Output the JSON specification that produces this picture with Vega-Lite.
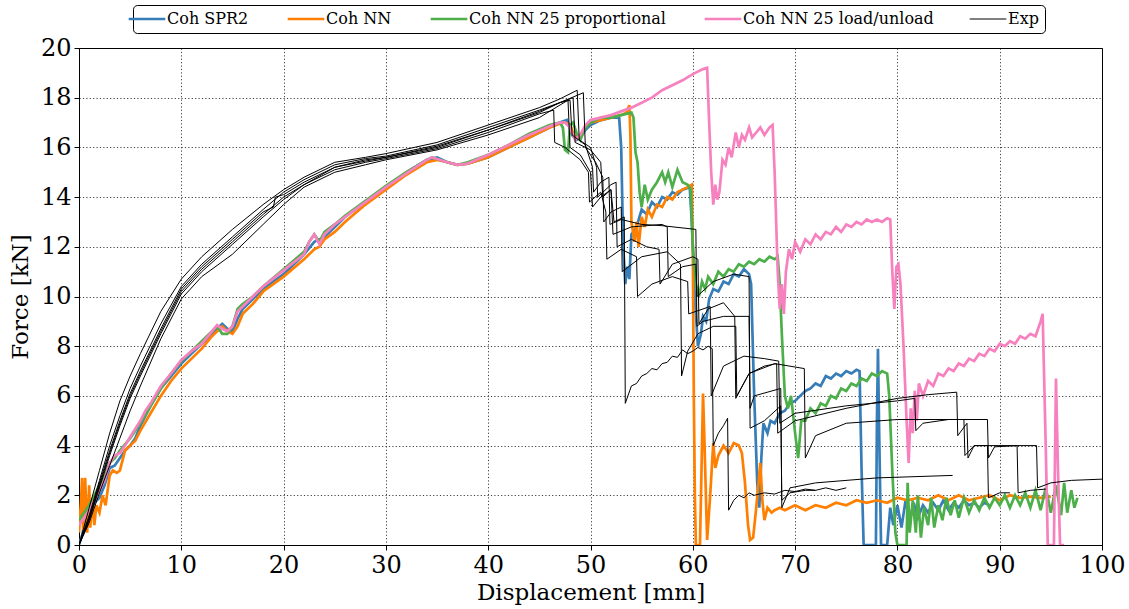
{
"$schema":"https://vega.github.io/schema/vega-lite/v6.json",
"width":1023,"height":497,
"autosize":{"type":"none"},
"padding":{"left":79,"top":48,"right":27,"bottom":64},
"config":{
"font":"DejaVu Serif",
"view":{"stroke":"#000","strokeWidth":1},
"axis":{"labelFont":"DejaVu Serif","titleFont":"DejaVu Serif","labelFontSize":24,"titleFontSize":23,"titleFontWeight":"normal","labelColor":"#000","titleColor":"#000","domainColor":"#000","tickColor":"#000","tickSize":5,"gridColor":"#000","gridOpacity":0.75,"gridDash":[1.2,2.2],"gridWidth":1,"labelFlush":false,"labelOverlap":false,"labelPadding":3}
},
"datasets":{
"blue":[{"x":0,"y":0},{"x":0.3,"y":0.4},{"x":0.6,"y":0.9},{"x":1,"y":1.3},{"x":1.5,"y":1.7},{"x":2,"y":1.9},{"x":2.5,"y":2.4},{"x":3,"y":3.1},{"x":3.5,"y":3.2},{"x":4,"y":3.5},{"x":4.5,"y":3.8},{"x":5,"y":4.0},{"x":5.5,"y":4.3},{"x":6,"y":4.8},{"x":7,"y":5.6},{"x":8,"y":6.3},{"x":9,"y":6.8},{"x":10,"y":7.3},{"x":11,"y":7.7},{"x":12,"y":8.1},{"x":13,"y":8.5},{"x":14,"y":8.9},{"x":14.5,"y":8.7},{"x":15,"y":8.6},{"x":15.5,"y":9.1},{"x":16,"y":9.5},{"x":17,"y":9.9},{"x":18,"y":10.3},{"x":19,"y":10.6},{"x":20,"y":10.9},{"x":21,"y":11.3},{"x":22,"y":11.7},{"x":23,"y":12.2},{"x":23.5,"y":12.3},{"x":24,"y":12.4},{"x":25,"y":12.8},{"x":26,"y":13.2},{"x":28,"y":13.8},{"x":30,"y":14.4},{"x":32,"y":15.0},{"x":34,"y":15.5},{"x":35,"y":15.6},{"x":36,"y":15.4},{"x":37,"y":15.3},{"x":38,"y":15.35},{"x":40,"y":15.6},{"x":42,"y":16.0},{"x":44,"y":16.4},{"x":46,"y":16.8},{"x":47,"y":17.0},{"x":47.7,"y":17.1},{"x":48.2,"y":16.5},{"x":48.6,"y":16.3},{"x":49,"y":16.4},{"x":49.5,"y":16.7},{"x":50,"y":16.9},{"x":51,"y":17.1},{"x":52,"y":17.2},{"x":52.8,"y":17.2},{"x":53.0,"y":16.0},{"x":53.2,"y":12.0},{"x":53.4,"y":10.5},{"x":53.6,"y":11.2},{"x":53.8,"y":10.7},{"x":54,"y":12.5},{"x":54.5,"y":12.8},{"x":55,"y":13.5},{"x":55.5,"y":13.3},{"x":56,"y":13.8},{"x":56.5,"y":13.6},{"x":57,"y":14.0},{"x":57.5,"y":13.9},{"x":58,"y":14.2},{"x":58.5,"y":14.1},{"x":59,"y":14.3},{"x":59.7,"y":14.4},{"x":59.9,"y":13.0},{"x":60.2,"y":10.0},{"x":60.5,"y":8.0},{"x":60.8,"y":8.5},{"x":61,"y":9.2},{"x":61.3,"y":9.0},{"x":61.6,"y":9.9},{"x":62,"y":10.3},{"x":62.5,"y":10.2},{"x":63,"y":10.6},{"x":63.5,"y":10.5},{"x":64,"y":10.9},{"x":64.5,"y":10.8},{"x":65,"y":11.1},{"x":65.5,"y":10.9},{"x":65.7,"y":10.5},{"x":66.0,"y":6.0},{"x":66.3,"y":2.5},{"x":66.5,"y":1.5},{"x":66.7,"y":3.5},{"x":66.9,"y":4.9},{"x":67.3,"y":4.5},{"x":67.6,"y":5.0},{"x":68,"y":4.9},{"x":68.5,"y":5.3},{"x":69,"y":5.4},{"x":69.5,"y":5.7},{"x":70,"y":5.8},{"x":70.5,"y":6.0},{"x":71,"y":6.2},{"x":71.5,"y":6.3},{"x":72,"y":6.5},{"x":72.5,"y":6.4},{"x":73,"y":6.8},{"x":73.5,"y":6.7},{"x":74,"y":6.9},{"x":74.5,"y":6.8},{"x":75,"y":7.0},{"x":75.5,"y":6.9},{"x":76,"y":7.05},{"x":76.3,"y":7.0},{"x":76.5,"y":3.0},{"x":76.7,"y":0},{"x":77.9,"y":0},{"x":78.0,"y":5.0},{"x":78.1,"y":7.9},{"x":78.2,"y":5.0},{"x":78.4,"y":0},{"x":79.0,"y":0},{"x":79.3,"y":1.5},{"x":79.6,"y":0.8},{"x":80,"y":1.6},{"x":80.4,"y":0.7},{"x":80.8,"y":1.8},{"x":81.2,"y":1.0},{"x":81.6,"y":1.7},{"x":82,"y":1.1},{"x":82.5,"y":1.6},{"x":83,"y":1.3},{"x":83.5,"y":1.7},{"x":84,"y":1.4},{"x":84.5,"y":1.8},{"x":85,"y":1.4},{"x":85.5,"y":1.7},{"x":86,"y":1.5},{"x":86.5,"y":1.8},{"x":87,"y":1.6},{"x":87.5,"y":1.7},{"x":88,"y":1.5},{"x":88.5,"y":1.7},{"x":89,"y":1.6}],
"orange":[{"x":0,"y":0.5},{"x":0.2,"y":1.8},{"x":0.3,"y":2.7},{"x":0.4,"y":0.6},{"x":0.6,"y":2.7},{"x":0.8,"y":0.5},{"x":1.0,"y":2.4},{"x":1.1,"y":0.7},{"x":1.3,"y":1.8},{"x":1.5,"y":0.8},{"x":1.7,"y":1.6},{"x":2,"y":1.3},{"x":2.3,"y":2.0},{"x":2.6,"y":1.6},{"x":3,"y":2.8},{"x":3.3,"y":3.0},{"x":3.7,"y":2.9},{"x":4,"y":3.0},{"x":4.5,"y":3.8},{"x":5,"y":4.0},{"x":5.5,"y":4.2},{"x":6,"y":4.6},{"x":7,"y":5.3},{"x":8,"y":6.0},{"x":9,"y":6.6},{"x":10,"y":7.1},{"x":11,"y":7.5},{"x":12,"y":7.9},{"x":13,"y":8.4},{"x":14,"y":8.8},{"x":14.5,"y":8.6},{"x":15,"y":8.5},{"x":15.5,"y":8.8},{"x":16,"y":9.3},{"x":17,"y":9.7},{"x":18,"y":10.2},{"x":20,"y":10.8},{"x":22,"y":11.5},{"x":23,"y":11.9},{"x":23.5,"y":12.0},{"x":24,"y":12.3},{"x":25,"y":12.6},{"x":26,"y":13.0},{"x":28,"y":13.7},{"x":30,"y":14.3},{"x":32,"y":14.9},{"x":34,"y":15.4},{"x":35,"y":15.5},{"x":36,"y":15.4},{"x":37,"y":15.3},{"x":38,"y":15.35},{"x":40,"y":15.6},{"x":42,"y":16.0},{"x":44,"y":16.4},{"x":46,"y":16.8},{"x":47,"y":16.95},{"x":47.5,"y":17.0},{"x":48,"y":16.9},{"x":48.5,"y":16.4},{"x":49,"y":16.5},{"x":49.5,"y":16.8},{"x":50,"y":17.0},{"x":51,"y":17.1},{"x":52,"y":17.2},{"x":53,"y":17.3},{"x":53.5,"y":17.4},{"x":53.8,"y":17.7},{"x":53.9,"y":16.5},{"x":54.0,"y":13.0},{"x":54.3,"y":12.2},{"x":54.5,"y":13.0},{"x":54.7,"y":12.0},{"x":55,"y":13.2},{"x":55.3,"y":12.8},{"x":55.6,"y":13.5},{"x":56,"y":13.2},{"x":56.5,"y":13.7},{"x":57,"y":13.6},{"x":57.5,"y":14.0},{"x":58,"y":13.9},{"x":58.5,"y":14.2},{"x":59,"y":14.3},{"x":59.5,"y":14.4},{"x":59.9,"y":14.5},{"x":60.0,"y":12.0},{"x":60.1,"y":6.0},{"x":60.2,"y":2.0},{"x":60.3,"y":0},{"x":60.7,"y":0},{"x":60.85,"y":3.0},{"x":61.0,"y":6.1},{"x":61.15,"y":4.0},{"x":61.4,"y":0.2},{"x":61.7,"y":2.0},{"x":62.0,"y":4.1},{"x":62.2,"y":3.1},{"x":62.5,"y":3.6},{"x":63,"y":4.0},{"x":63.5,"y":3.7},{"x":64,"y":4.1},{"x":64.5,"y":4.0},{"x":64.8,"y":3.7},{"x":65.1,"y":2.5},{"x":65.4,"y":0.8},{"x":65.6,"y":0.2},{"x":65.9,"y":0.3},{"x":66.2,"y":1.5},{"x":66.6,"y":3.3},{"x":66.8,"y":1.8},{"x":67.0,"y":1.0},{"x":67.3,"y":1.5},{"x":67.7,"y":1.3},{"x":68,"y":1.4},{"x":68.5,"y":1.5},{"x":69,"y":1.4},{"x":70,"y":1.6},{"x":71,"y":1.4},{"x":72,"y":1.6},{"x":73,"y":1.5},{"x":74,"y":1.7},{"x":75,"y":1.6},{"x":76,"y":1.8},{"x":77,"y":1.7},{"x":78,"y":1.8},{"x":79,"y":1.7},{"x":80,"y":1.9},{"x":81,"y":1.8},{"x":82,"y":1.9},{"x":83,"y":1.8},{"x":84,"y":2.0},{"x":85,"y":1.8},{"x":86,"y":2.0},{"x":87,"y":1.8},{"x":88,"y":1.9},{"x":89,"y":2.0},{"x":90,"y":1.8},{"x":91,"y":2.0},{"x":92,"y":1.9},{"x":93,"y":1.95},{"x":94,"y":1.9},{"x":95,"y":1.95}],
"green":[{"x":0,"y":1.0},{"x":0.5,"y":1.3},{"x":1,"y":1.6},{"x":1.5,"y":2.0},{"x":2,"y":2.4},{"x":2.5,"y":2.8},{"x":3,"y":3.3},{"x":3.5,"y":3.5},{"x":4,"y":3.8},{"x":5,"y":4.3},{"x":6,"y":4.9},{"x":7,"y":5.6},{"x":8,"y":6.3},{"x":9,"y":6.9},{"x":10,"y":7.4},{"x":11,"y":7.8},{"x":12,"y":8.2},{"x":13,"y":8.6},{"x":13.5,"y":8.8},{"x":14,"y":8.5},{"x":14.5,"y":8.5},{"x":15,"y":8.8},{"x":15.5,"y":9.5},{"x":16,"y":9.7},{"x":17,"y":10.0},{"x":18,"y":10.4},{"x":20,"y":11.1},{"x":22,"y":11.8},{"x":22.5,"y":12.2},{"x":23,"y":12.5},{"x":23.5,"y":12.2},{"x":24,"y":12.6},{"x":25,"y":12.9},{"x":26,"y":13.25},{"x":28,"y":13.85},{"x":30,"y":14.45},{"x":32,"y":15.0},{"x":34,"y":15.5},{"x":34.5,"y":15.6},{"x":36,"y":15.4},{"x":37,"y":15.3},{"x":38,"y":15.4},{"x":40,"y":15.7},{"x":42,"y":16.1},{"x":44,"y":16.55},{"x":46,"y":16.9},{"x":47,"y":17.0},{"x":47.3,"y":16.8},{"x":47.5,"y":15.9},{"x":47.8,"y":15.8},{"x":48.0,"y":16.9},{"x":48.3,"y":17.0},{"x":48.7,"y":16.5},{"x":49,"y":16.3},{"x":49.5,"y":16.8},{"x":50,"y":17.0},{"x":51,"y":17.2},{"x":52,"y":17.2},{"x":53,"y":17.3},{"x":53.5,"y":17.35},{"x":54.0,"y":17.4},{"x":54.2,"y":17.2},{"x":54.4,"y":15.8},{"x":54.6,"y":15.4},{"x":54.8,"y":14.2},{"x":55,"y":13.6},{"x":55.3,"y":14.5},{"x":55.6,"y":13.9},{"x":56,"y":14.3},{"x":56.5,"y":14.6},{"x":57,"y":15.0},{"x":57.3,"y":14.6},{"x":57.6,"y":15.0},{"x":58,"y":14.4},{"x":58.5,"y":15.1},{"x":59,"y":14.6},{"x":59.5,"y":14.5},{"x":59.8,"y":14.3},{"x":60.0,"y":12.0},{"x":60.3,"y":10.5},{"x":60.6,"y":10.0},{"x":60.9,"y":10.6},{"x":61.2,"y":10.3},{"x":61.5,"y":10.8},{"x":62,"y":10.5},{"x":62.5,"y":11.0},{"x":63,"y":10.8},{"x":63.5,"y":11.1},{"x":64,"y":11.0},{"x":64.5,"y":11.3},{"x":65,"y":11.2},{"x":65.5,"y":11.4},{"x":66,"y":11.3},{"x":66.5,"y":11.5},{"x":67,"y":11.4},{"x":67.5,"y":11.6},{"x":68,"y":11.5},{"x":68.3,"y":11.6},{"x":68.5,"y":10.5},{"x":68.7,"y":8.5},{"x":69,"y":6.0},{"x":69.3,"y":5.5},{"x":69.6,"y":6.0},{"x":70,"y":4.5},{"x":70.3,"y":3.5},{"x":70.6,"y":5.0},{"x":71,"y":5.0},{"x":71.5,"y":5.5},{"x":72,"y":5.3},{"x":72.5,"y":5.7},{"x":73,"y":5.6},{"x":73.5,"y":6.0},{"x":74,"y":5.9},{"x":74.5,"y":6.3},{"x":75,"y":6.2},{"x":75.5,"y":6.5},{"x":76,"y":6.4},{"x":76.5,"y":6.7},{"x":77,"y":6.6},{"x":77.5,"y":6.9},{"x":78,"y":6.8},{"x":78.5,"y":7.0},{"x":79,"y":6.9},{"x":79.2,"y":6.0},{"x":79.5,"y":3.0},{"x":79.8,"y":0.5},{"x":80.0,"y":0},{"x":80.9,"y":0},{"x":81.0,"y":2.5},{"x":81.2,"y":0.5},{"x":81.5,"y":1.8},{"x":81.8,"y":0.5},{"x":82.0,"y":2.0},{"x":82.3,"y":0.3},{"x":82.6,"y":1.5},{"x":83.0,"y":0.8},{"x":83.3,"y":1.9},{"x":83.6,"y":0.7},{"x":84,"y":1.6},{"x":84.4,"y":1.0},{"x":84.8,"y":1.9},{"x":85.2,"y":1.2},{"x":85.6,"y":1.8},{"x":86,"y":1.1},{"x":86.5,"y":1.9},{"x":87,"y":1.3},{"x":87.5,"y":1.8},{"x":88,"y":1.4},{"x":88.5,"y":1.9},{"x":89,"y":1.5},{"x":89.5,"y":1.9},{"x":90,"y":1.6},{"x":90.5,"y":2.0},{"x":91,"y":1.5},{"x":91.5,"y":2.0},{"x":92,"y":1.6},{"x":92.5,"y":2.1},{"x":93,"y":1.5},{"x":93.5,"y":2.2},{"x":94,"y":1.4},{"x":94.5,"y":2.3},{"x":95,"y":1.3},{"x":95.5,"y":2.4},{"x":96,"y":1.2},{"x":96.3,"y":2.5},{"x":96.6,"y":1.3},{"x":97,"y":2.2},{"x":97.3,"y":1.5},{"x":97.6,"y":1.9}],
"pink":[{"x":0,"y":0.8},{"x":0.5,"y":1.1},{"x":1,"y":1.4},{"x":1.5,"y":1.8},{"x":2,"y":2.2},{"x":2.5,"y":2.6},{"x":3,"y":3.3},{"x":3.5,"y":3.6},{"x":4,"y":3.7},{"x":4.5,"y":4.0},{"x":5,"y":4.35},{"x":6,"y":5.0},{"x":6.5,"y":5.4},{"x":7,"y":5.7},{"x":8,"y":6.4},{"x":9,"y":6.9},{"x":10,"y":7.45},{"x":11,"y":7.8},{"x":12,"y":8.1},{"x":13,"y":8.6},{"x":13.5,"y":8.85},{"x":14,"y":8.7},{"x":14.5,"y":8.6},{"x":15,"y":8.8},{"x":15.5,"y":9.4},{"x":16,"y":9.6},{"x":18,"y":10.4},{"x":20,"y":11.05},{"x":22,"y":11.7},{"x":22.5,"y":12.2},{"x":23,"y":12.5},{"x":23.5,"y":12.1},{"x":24,"y":12.5},{"x":25,"y":12.9},{"x":26,"y":13.2},{"x":28,"y":13.8},{"x":30,"y":14.4},{"x":32,"y":14.95},{"x":34,"y":15.5},{"x":34.5,"y":15.6},{"x":36,"y":15.4},{"x":37,"y":15.3},{"x":38,"y":15.35},{"x":40,"y":15.7},{"x":42,"y":16.1},{"x":44,"y":16.5},{"x":46,"y":16.85},{"x":47,"y":17.0},{"x":47.5,"y":17.0},{"x":48,"y":16.8},{"x":48.5,"y":16.3},{"x":49,"y":16.5},{"x":49.5,"y":16.9},{"x":50,"y":17.1},{"x":51,"y":17.2},{"x":52,"y":17.3},{"x":53,"y":17.45},{"x":54,"y":17.6},{"x":55,"y":17.8},{"x":56,"y":18.0},{"x":57,"y":18.3},{"x":58,"y":18.5},{"x":59,"y":18.7},{"x":60,"y":18.95},{"x":61,"y":19.15},{"x":61.4,"y":19.2},{"x":61.6,"y":17.0},{"x":61.8,"y":15.0},{"x":62.0,"y":13.7},{"x":62.2,"y":14.5},{"x":62.4,"y":13.9},{"x":62.6,"y":14.2},{"x":62.9,"y":15.5},{"x":63.2,"y":15.3},{"x":63.5,"y":16.0},{"x":63.8,"y":15.6},{"x":64.2,"y":16.6},{"x":64.5,"y":16.0},{"x":64.8,"y":16.5},{"x":65.1,"y":16.3},{"x":65.5,"y":16.8},{"x":65.8,"y":16.4},{"x":66.2,"y":16.6},{"x":66.6,"y":16.8},{"x":67,"y":16.5},{"x":67.5,"y":16.8},{"x":67.8,"y":16.9},{"x":68.0,"y":15.0},{"x":68.3,"y":11.0},{"x":68.5,"y":9.5},{"x":68.7,"y":10.5},{"x":68.9,"y":9.3},{"x":69.1,"y":11.0},{"x":69.4,"y":11.9},{"x":69.7,"y":11.5},{"x":70,"y":12.2},{"x":70.5,"y":11.8},{"x":71,"y":12.3},{"x":71.5,"y":12.1},{"x":72,"y":12.5},{"x":72.5,"y":12.3},{"x":73,"y":12.6},{"x":73.5,"y":12.5},{"x":74,"y":12.8},{"x":74.5,"y":12.6},{"x":75,"y":12.9},{"x":75.5,"y":12.8},{"x":76,"y":13.0},{"x":76.5,"y":12.9},{"x":77,"y":13.1},{"x":77.5,"y":13.0},{"x":78,"y":13.1},{"x":78.5,"y":13.0},{"x":79,"y":13.15},{"x":79.3,"y":13.1},{"x":79.5,"y":11.0},{"x":79.7,"y":9.5},{"x":79.9,"y":11.2},{"x":80.1,"y":11.3},{"x":80.3,"y":10.5},{"x":80.6,"y":8.0},{"x":80.9,"y":5.0},{"x":81.1,"y":3.3},{"x":81.3,"y":5.5},{"x":81.5,"y":4.5},{"x":81.7,"y":6.2},{"x":81.9,"y":5.0},{"x":82.1,"y":6.5},{"x":82.5,"y":6.0},{"x":83,"y":6.6},{"x":83.5,"y":6.4},{"x":84,"y":6.9},{"x":84.5,"y":6.8},{"x":85,"y":7.1},{"x":85.5,"y":7.0},{"x":86,"y":7.3},{"x":86.5,"y":7.2},{"x":87,"y":7.5},{"x":87.5,"y":7.4},{"x":88,"y":7.7},{"x":88.5,"y":7.6},{"x":89,"y":7.9},{"x":89.5,"y":7.8},{"x":90,"y":8.1},{"x":90.5,"y":8.0},{"x":91,"y":8.2},{"x":91.5,"y":8.1},{"x":92,"y":8.4},{"x":92.5,"y":8.3},{"x":93,"y":8.5},{"x":93.5,"y":8.4},{"x":94,"y":9.0},{"x":94.2,"y":9.3},{"x":94.3,"y":7.5},{"x":94.5,"y":4.0},{"x":94.7,"y":0},{"x":95.3,"y":0},{"x":95.5,"y":6.7},{"x":95.7,"y":3.0},{"x":95.9,"y":0},{"x":96.3,"y":0}],
"exp":[
{"r":1,"x":0,"y":0},{"r":1,"x":1,"y":1.1},{"r":1,"x":2,"y":2.5},{"r":1,"x":3,"y":3.8},{"r":1,"x":4,"y":5.0},{"r":1,"x":5,"y":6.1},{"r":1,"x":6,"y":7.0},{"r":1,"x":8,"y":8.7},{"r":1,"x":10,"y":10.3},{"r":1,"x":12,"y":11.2},{"r":1,"x":15,"y":12.3},{"r":1,"x":18,"y":13.4},{"r":1,"x":19,"y":13.6},{"r":1,"x":19.2,"y":14.0},{"r":1,"x":20,"y":14.1},{"r":1,"x":22,"y":14.6},{"r":1,"x":25,"y":15.2},{"r":1,"x":28,"y":15.5},{"r":1,"x":30,"y":15.6},{"r":1,"x":35,"y":16.05},{"r":1,"x":40,"y":16.7},{"r":1,"x":45,"y":17.45},{"r":1,"x":47,"y":17.8},{"r":1,"x":48.3,"y":18.0},{"r":1,"x":48.5,"y":16.2},{"r":1,"x":50,"y":15.9},{"r":1,"x":51,"y":15.4},{"r":1,"x":51.2,"y":14.0},{"r":1,"x":52,"y":14.3},{"r":1,"x":52.3,"y":13.0},{"r":1,"x":53.3,"y":13.2},{"r":1,"x":53.4,"y":5.7},{"r":1,"x":54,"y":6.4},{"r":1,"x":54.5,"y":6.5},{"r":1,"x":55,"y":6.8},{"r":1,"x":55.5,"y":6.9},{"r":1,"x":56,"y":7.1},{"r":1,"x":56.5,"y":7.05},{"r":1,"x":57,"y":7.3},{"r":1,"x":57.5,"y":7.35},{"r":1,"x":58,"y":7.6},{"r":1,"x":58.5,"y":7.55},{"r":1,"x":59,"y":7.85},{"r":1,"x":59.5,"y":7.7},{"r":1,"x":60,"y":7.8},{"r":1,"x":60.5,"y":7.95},{"r":1,"x":61,"y":7.85},{"r":1,"x":61.5,"y":8.0},{"r":1,"x":61.9,"y":7.9},{"r":1,"x":62.0,"y":4.0},{"r":1,"x":62.5,"y":4.5},{"r":1,"x":63,"y":4.8},{"r":1,"x":63.4,"y":5.1},{"r":1,"x":63.5,"y":1.4},{"r":1,"x":64,"y":1.8},{"r":1,"x":64.5,"y":2.0},{"r":1,"x":65,"y":1.9},{"r":1,"x":65.5,"y":2.1},{"r":1,"x":66,"y":2.0},{"r":1,"x":67,"y":2.1},{"r":1,"x":68,"y":2.05},{"r":1,"x":69,"y":2.2},{"r":1,"x":70,"y":2.15},{"r":1,"x":71,"y":2.25},{"r":1,"x":72,"y":2.2},{"r":1,"x":73,"y":2.3},{"r":1,"x":74,"y":2.2},{"r":1,"x":75,"y":2.3},
{"r":2,"x":0,"y":0},{"r":2,"x":1,"y":1.2},{"r":2,"x":2,"y":2.6},{"r":2,"x":3,"y":4.0},{"r":2,"x":4,"y":5.2},{"r":2,"x":5,"y":6.3},{"r":2,"x":6,"y":7.2},{"r":2,"x":8,"y":8.9},{"r":2,"x":10,"y":10.4},{"r":2,"x":12,"y":11.3},{"r":2,"x":15,"y":12.4},{"r":2,"x":18,"y":13.5},{"r":2,"x":20,"y":14.2},{"r":2,"x":22,"y":14.7},{"r":2,"x":25,"y":15.3},{"r":2,"x":28,"y":15.55},{"r":2,"x":30,"y":15.65},{"r":2,"x":35,"y":16.1},{"r":2,"x":40,"y":16.8},{"r":2,"x":45,"y":17.5},{"r":2,"x":47,"y":17.8},{"r":2,"x":48.0,"y":17.9},{"r":2,"x":48.2,"y":16.5},{"r":2,"x":49.5,"y":16.1},{"r":2,"x":50.2,"y":15.2},{"r":2,"x":50.3,"y":14.2},{"r":2,"x":51,"y":14.6},{"r":2,"x":51.8,"y":14.8},{"r":2,"x":51.9,"y":12.9},{"r":2,"x":53,"y":13.1},{"r":2,"x":55,"y":12.9},{"r":2,"x":57,"y":12.85},{"r":2,"x":60.3,"y":12.7},{"r":2,"x":60.4,"y":8.8},{"r":2,"x":61,"y":9.0},{"r":2,"x":63,"y":9.2},{"r":2,"x":65.5,"y":9.2},{"r":2,"x":65.6,"y":5.5},{"r":2,"x":66,"y":6.0},{"r":2,"x":68.6,"y":6.3},{"r":2,"x":68.7,"y":1.5},{"r":2,"x":69.5,"y":2.3},{"r":2,"x":72,"y":2.5},{"r":2,"x":78,"y":2.7},{"r":2,"x":85.4,"y":2.8},
{"r":3,"x":0,"y":0},{"r":3,"x":1,"y":1.5},{"r":3,"x":2,"y":3.0},{"r":3,"x":3,"y":4.5},{"r":3,"x":4,"y":5.8},{"r":3,"x":5,"y":6.8},{"r":3,"x":6,"y":7.7},{"r":3,"x":8,"y":9.4},{"r":3,"x":10,"y":10.7},{"r":3,"x":12,"y":11.6},{"r":3,"x":15,"y":12.7},{"r":3,"x":18,"y":13.7},{"r":3,"x":20,"y":14.3},{"r":3,"x":22,"y":14.8},{"r":3,"x":25,"y":15.4},{"r":3,"x":28,"y":15.6},{"r":3,"x":30,"y":15.75},{"r":3,"x":35,"y":16.2},{"r":3,"x":40,"y":16.9},{"r":3,"x":45,"y":17.6},{"r":3,"x":47,"y":17.95},{"r":3,"x":48.7,"y":18.3},{"r":3,"x":48.9,"y":16.3},{"r":3,"x":50,"y":16.0},{"r":3,"x":50.6,"y":15.2},{"r":3,"x":50.7,"y":14.0},{"r":3,"x":52,"y":14.5},{"r":3,"x":52.5,"y":14.6},{"r":3,"x":52.6,"y":12.0},{"r":3,"x":54,"y":12.3},{"r":3,"x":55.5,"y":12.0},{"r":3,"x":56.7,"y":11.9},{"r":3,"x":56.8,"y":10.5},{"r":3,"x":58,"y":11.3},{"r":3,"x":60.0,"y":11.6},{"r":3,"x":60.5,"y":11.5},{"r":3,"x":60.6,"y":8.9},{"r":3,"x":61.5,"y":9.5},{"r":3,"x":63,"y":9.75},{"r":3,"x":64.1,"y":9.2},{"r":3,"x":64.2,"y":5.9},{"r":3,"x":65.5,"y":6.9},{"r":3,"x":67,"y":7.2},{"r":3,"x":68.2,"y":7.3},{"r":3,"x":68.3,"y":4.5},{"r":3,"x":70,"y":5.0},{"r":3,"x":75,"y":5.5},{"r":3,"x":80,"y":5.9},{"r":3,"x":83,"y":6.05},{"r":3,"x":85.8,"y":6.15},{"r":3,"x":85.9,"y":4.4},{"r":3,"x":86.8,"y":4.9},{"r":3,"x":86.9,"y":3.5},{"r":3,"x":87.5,"y":4.0},{"r":3,"x":93.6,"y":4.0},{"r":3,"x":93.7,"y":2.3},{"r":3,"x":95,"y":2.5},{"r":3,"x":97,"y":2.6},{"r":3,"x":100,"y":2.65},
{"r":4,"x":0,"y":0},{"r":4,"x":1,"y":1.0},{"r":4,"x":2,"y":2.3},{"r":4,"x":3,"y":3.6},{"r":4,"x":4,"y":4.8},{"r":4,"x":5,"y":5.9},{"r":4,"x":6,"y":6.8},{"r":4,"x":8,"y":8.5},{"r":4,"x":10,"y":10.1},{"r":4,"x":12,"y":11.0},{"r":4,"x":15,"y":12.1},{"r":4,"x":18,"y":13.2},{"r":4,"x":20,"y":13.9},{"r":4,"x":22,"y":14.5},{"r":4,"x":25,"y":15.1},{"r":4,"x":28,"y":15.4},{"r":4,"x":30,"y":15.55},{"r":4,"x":35,"y":15.95},{"r":4,"x":40,"y":16.6},{"r":4,"x":45,"y":17.35},{"r":4,"x":46.4,"y":17.5},{"r":4,"x":46.5,"y":16.2},{"r":4,"x":47.5,"y":16.0},{"r":4,"x":49,"y":15.5},{"r":4,"x":49.8,"y":15.0},{"r":4,"x":49.9,"y":13.8},{"r":4,"x":51,"y":14.2},{"r":4,"x":51.5,"y":13.4},{"r":4,"x":51.6,"y":11.5},{"r":4,"x":53,"y":11.9},{"r":4,"x":54.5,"y":11.6},{"r":4,"x":54.6,"y":10.0},{"r":4,"x":56,"y":10.5},{"r":4,"x":58,"y":10.8},{"r":4,"x":59.5,"y":10.6},{"r":4,"x":59.6,"y":9.3},{"r":4,"x":61.7,"y":9.6},{"r":4,"x":61.8,"y":6.0},{"r":4,"x":63,"y":7.2},{"r":4,"x":65,"y":7.6},{"r":4,"x":67,"y":7.5},{"r":4,"x":68.4,"y":7.4},{"r":4,"x":68.5,"y":4.9},{"r":4,"x":70,"y":5.3},{"r":4,"x":75,"y":5.6},{"r":4,"x":80,"y":5.8},{"r":4,"x":81.7,"y":5.9},{"r":4,"x":81.8,"y":4.6},{"r":4,"x":82.5,"y":4.9},{"r":4,"x":85,"y":5.05},{"r":4,"x":88.8,"y":5.05},{"r":4,"x":88.9,"y":3.5},{"r":4,"x":89.5,"y":3.95},{"r":4,"x":91.7,"y":4.0},{"r":4,"x":91.8,"y":2.1},{"r":4,"x":93,"y":2.2},{"r":4,"x":94.5,"y":2.25},
{"r":5,"x":0,"y":0},{"r":5,"x":1,"y":1.05},{"r":5,"x":2,"y":2.4},{"r":5,"x":3,"y":3.7},{"r":5,"x":4,"y":4.9},{"r":5,"x":5,"y":6.0},{"r":5,"x":6,"y":6.9},{"r":5,"x":8,"y":8.6},{"r":5,"x":10,"y":10.2},{"r":5,"x":12,"y":11.1},{"r":5,"x":15,"y":12.2},{"r":5,"x":18,"y":13.3},{"r":5,"x":20,"y":14.0},{"r":5,"x":22,"y":14.5},{"r":5,"x":25,"y":15.2},{"r":5,"x":28,"y":15.45},{"r":5,"x":30,"y":15.6},{"r":5,"x":35,"y":16.0},{"r":5,"x":40,"y":16.7},{"r":5,"x":45,"y":17.4},{"r":5,"x":47,"y":17.8},{"r":5,"x":49.3,"y":18.2},{"r":5,"x":49.5,"y":16.0},{"r":5,"x":50.5,"y":15.4},{"r":5,"x":51.2,"y":14.8},{"r":5,"x":51.3,"y":13.0},{"r":5,"x":52,"y":13.4},{"r":5,"x":53,"y":13.6},{"r":5,"x":53.1,"y":11.0},{"r":5,"x":55,"y":11.6},{"r":5,"x":57.5,"y":11.8},{"r":5,"x":58.8,"y":11.3},{"r":5,"x":58.9,"y":6.8},{"r":5,"x":59.5,"y":7.8},{"r":5,"x":60.5,"y":8.5},{"r":5,"x":62,"y":8.8},{"r":5,"x":64.2,"y":8.8},{"r":5,"x":64.3,"y":6.0},{"r":5,"x":65.5,"y":6.9},{"r":5,"x":68,"y":7.3},{"r":5,"x":70.9,"y":7.1},{"r":5,"x":71.0,"y":3.5},{"r":5,"x":72,"y":4.4},{"r":5,"x":75,"y":4.9},{"r":5,"x":80,"y":5.05},{"r":5,"x":86.5,"y":5.05},{"r":5,"x":86.6,"y":3.6},{"r":5,"x":87.5,"y":4.0},{"r":5,"x":88.8,"y":4.0},{"r":5,"x":88.9,"y":1.9},{"r":5,"x":90,"y":2.1},{"r":5,"x":91,"y":2.1},
{"r":6,"x":0,"y":0},{"r":6,"x":1,"y":0.9},{"r":6,"x":2,"y":2.1},{"r":6,"x":3,"y":3.2},{"r":6,"x":4,"y":4.3},{"r":6,"x":5,"y":5.4},{"r":6,"x":6,"y":6.4},{"r":6,"x":8,"y":8.3},{"r":6,"x":10,"y":9.9},{"r":6,"x":12,"y":10.8},{"r":6,"x":15,"y":11.7},{"r":6,"x":18,"y":12.9},{"r":6,"x":20,"y":13.7},{"r":6,"x":22,"y":14.4},{"r":6,"x":25,"y":15.0},{"r":6,"x":28,"y":15.3},{"r":6,"x":30,"y":15.5},{"r":6,"x":35,"y":15.9},{"r":6,"x":40,"y":16.5},{"r":6,"x":45,"y":17.2},{"r":6,"x":47.8,"y":17.9},{"r":6,"x":48.0,"y":16.0},{"r":6,"x":49,"y":15.7},{"r":6,"x":50,"y":15.0},{"r":6,"x":50.2,"y":13.6},{"r":6,"x":51,"y":14.0},{"r":6,"x":52,"y":14.3},{"r":6,"x":52.2,"y":12.5},{"r":6,"x":54,"y":12.8},{"r":6,"x":57,"y":12.9},{"r":6,"x":57.5,"y":12.8},{"r":6,"x":57.6,"y":10.8},{"r":6,"x":59,"y":11.2},{"r":6,"x":60.3,"y":11.3},{"r":6,"x":60.4,"y":10.0},{"r":6,"x":62,"y":10.6},{"r":6,"x":64,"y":10.9},{"r":6,"x":65.5,"y":10.8},{"r":6,"x":65.6,"y":4.7},{"r":6,"x":67,"y":5.0},{"r":6,"x":68.6,"y":5.6},{"r":6,"x":68.7,"y":1.8},{"r":6,"x":69.5,"y":2.1},{"r":6,"x":71,"y":2.2},{"r":6,"x":72,"y":2.2}
]
},
"layer":[
{"data":{"name":"blue"},"mark":{"type":"line","strokeWidth":2.7,"clip":true},
 "encoding":{
  "x":{"field":"x","type":"quantitative","scale":{"domain":[0,100],"nice":false},"axis":{"title":"Displacement [mm]","values":[0,10,20,30,40,50,60,70,80,90,100],"titlePadding":4}},
  "y":{"field":"y","type":"quantitative","scale":{"domain":[0,20],"nice":false},"axis":{"title":"Force [kN]","values":[0,2,4,6,8,10,12,14,16,18,20],"titlePadding":8}},
  "color":{"datum":"Coh SPR2","type":"nominal","scale":{"domain":["Coh SPR2","Coh NN","Coh NN 25 proportional","Coh NN 25 load/unload","Exp"],"range":["#377eb8","#ff7f00","#4daf4a","#f781bf","#000000"]},
   "legend":{"title":null,"orient":"none","legendX":54,"legendY":-43,"direction":"horizontal","symbolType":"stroke","symbolSize":1340,"symbolStrokeWidth":2.5,"labelFont":"DejaVu Serif","labelFontSize":16,"labelColor":"#000","labelOffset":12,"columnPadding":33,"padding":6,"strokeColor":"#000","fillColor":"#fff","cornerRadius":4,"labelLimit":400,
   "encode":{"symbols":{"update":{"strokeWidth":{"signal":"datum.value === 'Exp' ? 1 : 2.5"}}}}}}
 }},
{"data":{"name":"orange"},"mark":{"type":"line","strokeWidth":2.7,"clip":true},
 "encoding":{"x":{"field":"x","type":"quantitative"},"y":{"field":"y","type":"quantitative"},"color":{"datum":"Coh NN","type":"nominal"}}},
{"data":{"name":"green"},"mark":{"type":"line","strokeWidth":2.7,"clip":true},
 "encoding":{"x":{"field":"x","type":"quantitative"},"y":{"field":"y","type":"quantitative"},"color":{"datum":"Coh NN 25 proportional","type":"nominal"}}},
{"data":{"name":"pink"},"mark":{"type":"line","strokeWidth":2.7,"clip":true},
 "encoding":{"x":{"field":"x","type":"quantitative"},"y":{"field":"y","type":"quantitative"},"color":{"datum":"Coh NN 25 load/unload","type":"nominal"}}},
{"data":{"name":"exp"},"mark":{"type":"line","strokeWidth":1,"clip":true},
 "encoding":{"x":{"field":"x","type":"quantitative"},"y":{"field":"y","type":"quantitative"},"detail":{"field":"r","type":"nominal"},"color":{"datum":"Exp","type":"nominal"}}}
]
}
